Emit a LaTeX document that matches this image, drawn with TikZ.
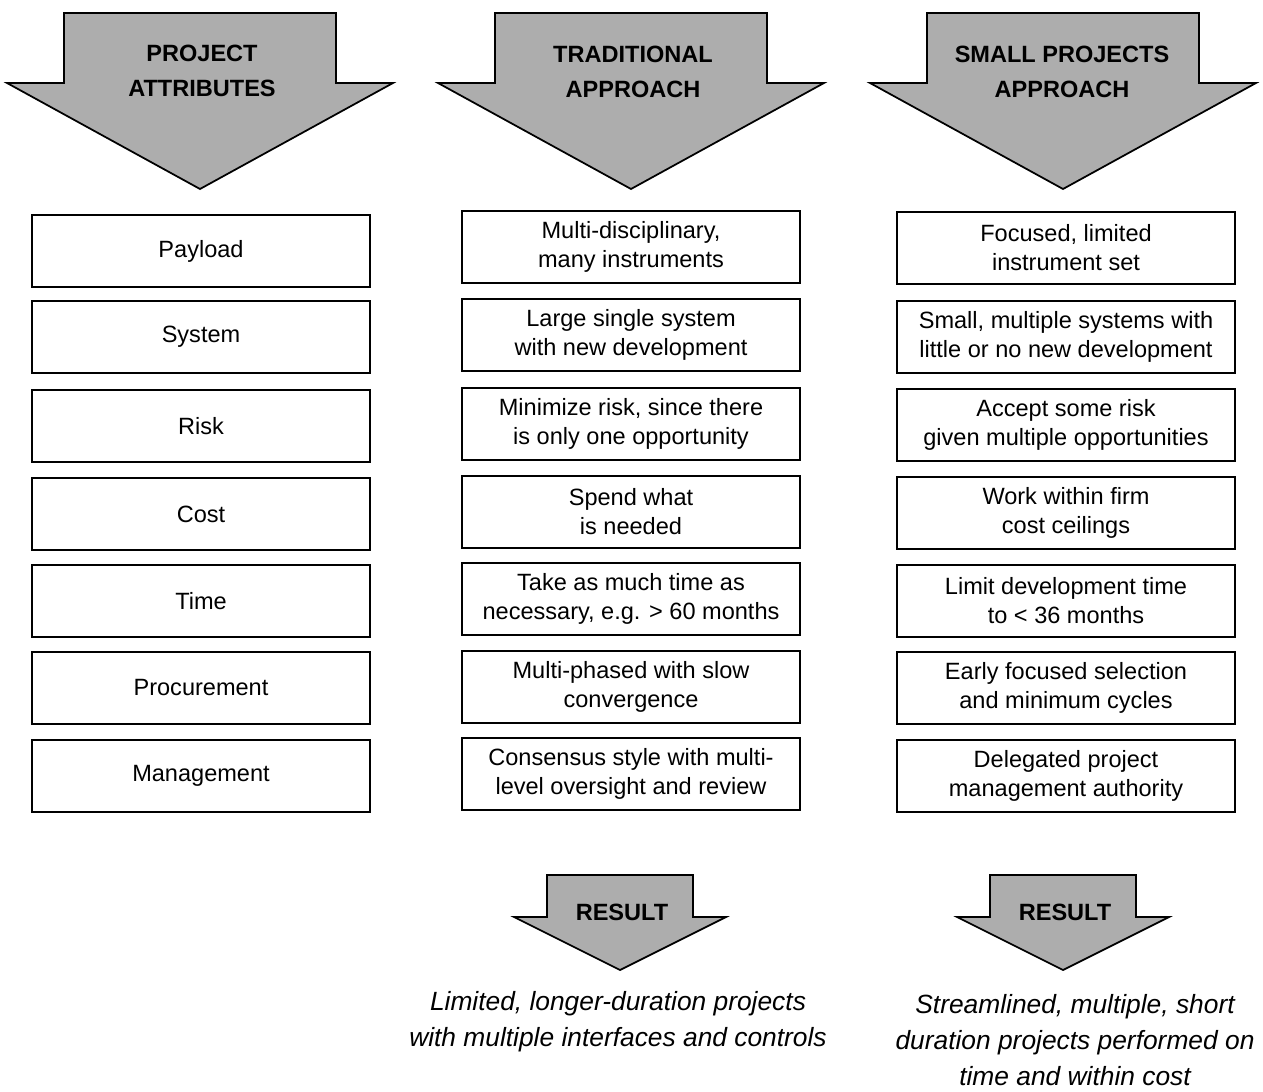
\documentclass[tikz,border=0pt]{standalone}
\usepackage{fontspec}
\setmainfont{Liberation Sans}

\begin{document}
\begin{tikzpicture}[x=0.02cm,y=-0.02cm,font=\fontsize{13.4}{16.5}\selectfont,
    attrbox/.style={draw,line width=0.9pt,minimum width=6.76cm,minimum height=1.44cm,align=center,inner sep=2pt},
    arrowshape/.style={draw,line width=1pt,fill=black!32,line join=miter},
    headtext/.style={font=\fontsize{13.4}{19.8}\selectfont\bfseries,align=center},
    resulttext/.style={font=\fontsize{15}{20.4}\selectfont\itshape,align=center}]
    \useasboundingbox (0,0) rectangle (1263,1091);
    % heading arrows
    \foreach \cx in {200,631,1063}
      \draw[arrowshape] (\cx-136,13) -- (\cx+136,13) -- (\cx+136,83) -- (\cx+193,83)
        -- (\cx,189) -- (\cx-193,83) -- (\cx-136,83) -- cycle;
    \node[headtext] (attrhead) at (202,71) {PROJECT\\ATTRIBUTES};
    \node[headtext] (tradhead) at (633,72) {TRADITIONAL\\APPROACH};
    \node[headtext] (smallhead) at (1062,72) {SMALL PROJECTS\\APPROACH};
    % attributes
    \node[attrbox] (payload) at (201,251) {Payload};
    \node[attrbox] (system) at (201,337) {System};
    \node[attrbox] (risk) at (201,426) {Risk};
    \node[attrbox] (cost) at (201,514) {Cost};
    \node[attrbox] (time) at (201,601) {Time};
    \node[attrbox] (procure) at (201,688) {Procurement};
    \node[attrbox] (manage) at (201,776) {Management};
    % traditional approach
    \node[attrbox] (tradpayload) at (631,247) {Multi-disciplinary,\\many instruments};
    \node[attrbox] (tradsystem) at (631,335) {Large single system\\with new development};
    \node[attrbox] (tradrisk) at (631,424) {Minimize risk, since there\\is only one opportunity};
    \node[attrbox] (tradcost) at (631,512) {Spend what\\is needed};
    \node[attrbox] (tradtime) at (631,599) {Take as much time as\\necessary, e.g. > 60 months};
    \node[attrbox] (tradprocure) at (631,687) {Multi-phased with slow\\convergence};
    \node[attrbox] (tradmanage) at (631,774) {Consensus style with multi-\\level oversight and review};
    % small projects approach
    \node[attrbox] (smallpayload) at (1066,248) {Focused, limited\\instrument set};
    \node[attrbox] (smallsystem) at (1066,337) {Small, multiple systems with\\little or no new development};
    \node[attrbox] (smallrisk) at (1066,425) {Accept some risk\\given multiple opportunities};
    \node[attrbox] (smallcost) at (1066,513) {Work within firm\\cost ceilings};
    \node[attrbox] (smalltime) at (1066,601) {Limit development time\\to < 36 months};
    \node[attrbox] (smallprocure) at (1066,688) {Early focused selection\\and minimum cycles};
    \node[attrbox] (smallmanage) at (1066,776) {Delegated project\\management authority};
    % result arrows
    \foreach \cx in {620,1063}
      \draw[arrowshape] (\cx-73,875) -- (\cx+73,875) -- (\cx+73,917) -- (\cx+106,917)
        -- (\cx,970) -- (\cx-106,917) -- (\cx-73,917) -- cycle;
    \node[headtext] (tradresult) at (622,912) {RESULT};
    \node[headtext] (smallresult) at (1065,912) {RESULT};
    \node[resulttext] (tradoutcome) at (618,1022) {Limited, longer-duration projects\\with multiple interfaces and controls};
    \node[resulttext] (smalloutcome) at (1075,1040) {Streamlined, multiple, short\\duration projects performed on\\time and within cost};
  \end{tikzpicture}
\end{document}
